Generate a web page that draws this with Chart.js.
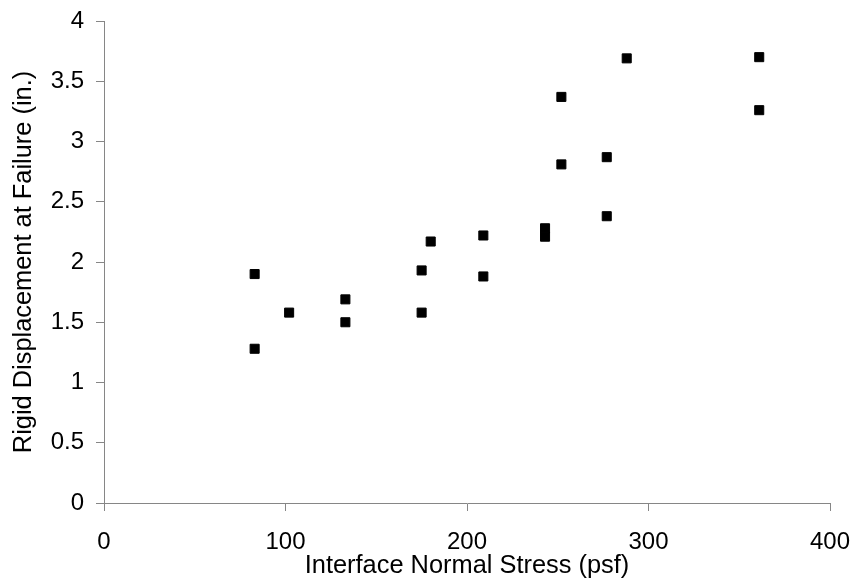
<!DOCTYPE html>
<html>
<head>
<meta charset="utf-8">
<script src="https://cdn.jsdelivr.net/npm/chart.js@4"></script>
<style>
html,body{margin:0;padding:0;background:#fff;}
#wrap{width:854px;height:579px;position:relative;}
</style>
</head>
<body>
<div id="wrap"><canvas id="c" width="854" height="579"></canvas></div>
<script>
const stressX = [83, 83, 102, 133, 133, 175, 175, 180, 209, 209, 243, 243, 252, 252, 277, 277, 288, 361, 361];
const displacementY = [1.90, 1.28, 1.58, 1.69, 1.50, 1.93, 1.58, 2.17, 2.22, 1.88, 2.28, 2.21, 3.37, 2.81, 2.87, 2.38, 3.69, 3.70, 3.26];
const xTicks = [0, 100, 200, 300, 400];
const yTicks = [0, 0.5, 1, 1.5, 2, 2.5, 3, 3.5, 4];
const xTitle = 'Interface Normal Stress (psf)';
const yTitle = 'Rigid Displacement at Failure (in.)';

const points = stressX.map((x, i) => ({x: x, y: displacementY[i]}));
const tickFont = {family: 'Liberation Sans, Arial, sans-serif', size: 24};
const titleFont = {family: 'Liberation Sans, Arial, sans-serif', size: 25.4, lineHeight: 1.0};
const axisGrey = '#868686';

new Chart(document.getElementById('c'), {
  type: 'scatter',
  data: {datasets: [{
    data: points,
    pointStyle: 'rect',
    pointRadius: 6.4,
    pointHoverRadius: 6.4,
    backgroundColor: '#000',
    borderColor: '#000',
    borderWidth: 1
  }]},
  options: {
    responsive: false,
    animation: false,
    events: [],
    layout: {padding: {top: 21, right: 24, left: 0, bottom: 0}},
    plugins: {legend: {display: false}, tooltip: {enabled: false}},
    scales: {
      x: {
        type: 'linear', min: 0, max: 400,
        afterBuildTicks: s => { s.ticks = xTicks.map(v => ({value: v})); },
        afterFit: s => { s.height = 76; s.paddingLeft = 0; s.paddingRight = 0; },
        grid: {display: true, drawOnChartArea: false, drawTicks: true, tickLength: 8, color: axisGrey, lineWidth: 1},
        border: {display: true, color: axisGrey, width: 1},
        ticks: {color: '#000', font: tickFont, padding: 17, maxRotation: 0, callback: v => String(v)},
        title: {display: true, text: xTitle, color: '#000', font: titleFont, padding: {top: 0, bottom: 0}}
      },
      y: {
        type: 'linear', min: 0, max: 4,
        afterBuildTicks: s => { s.ticks = yTicks.map(v => ({value: v})); },
        afterFit: s => { s.width = 104; s.paddingTop = 0; s.paddingBottom = 0; },
        grid: {display: true, drawOnChartArea: false, drawTicks: true, tickLength: 8, color: axisGrey, lineWidth: 1},
        border: {display: true, color: axisGrey, width: 1},
        ticks: {color: '#000', font: tickFont, padding: 12, callback: v => String(v)},
        title: {display: true, text: yTitle, color: '#000', font: titleFont, padding: {top: 11, bottom: 0}}
      }
    }
  }
});
</script>
</body>
</html>
